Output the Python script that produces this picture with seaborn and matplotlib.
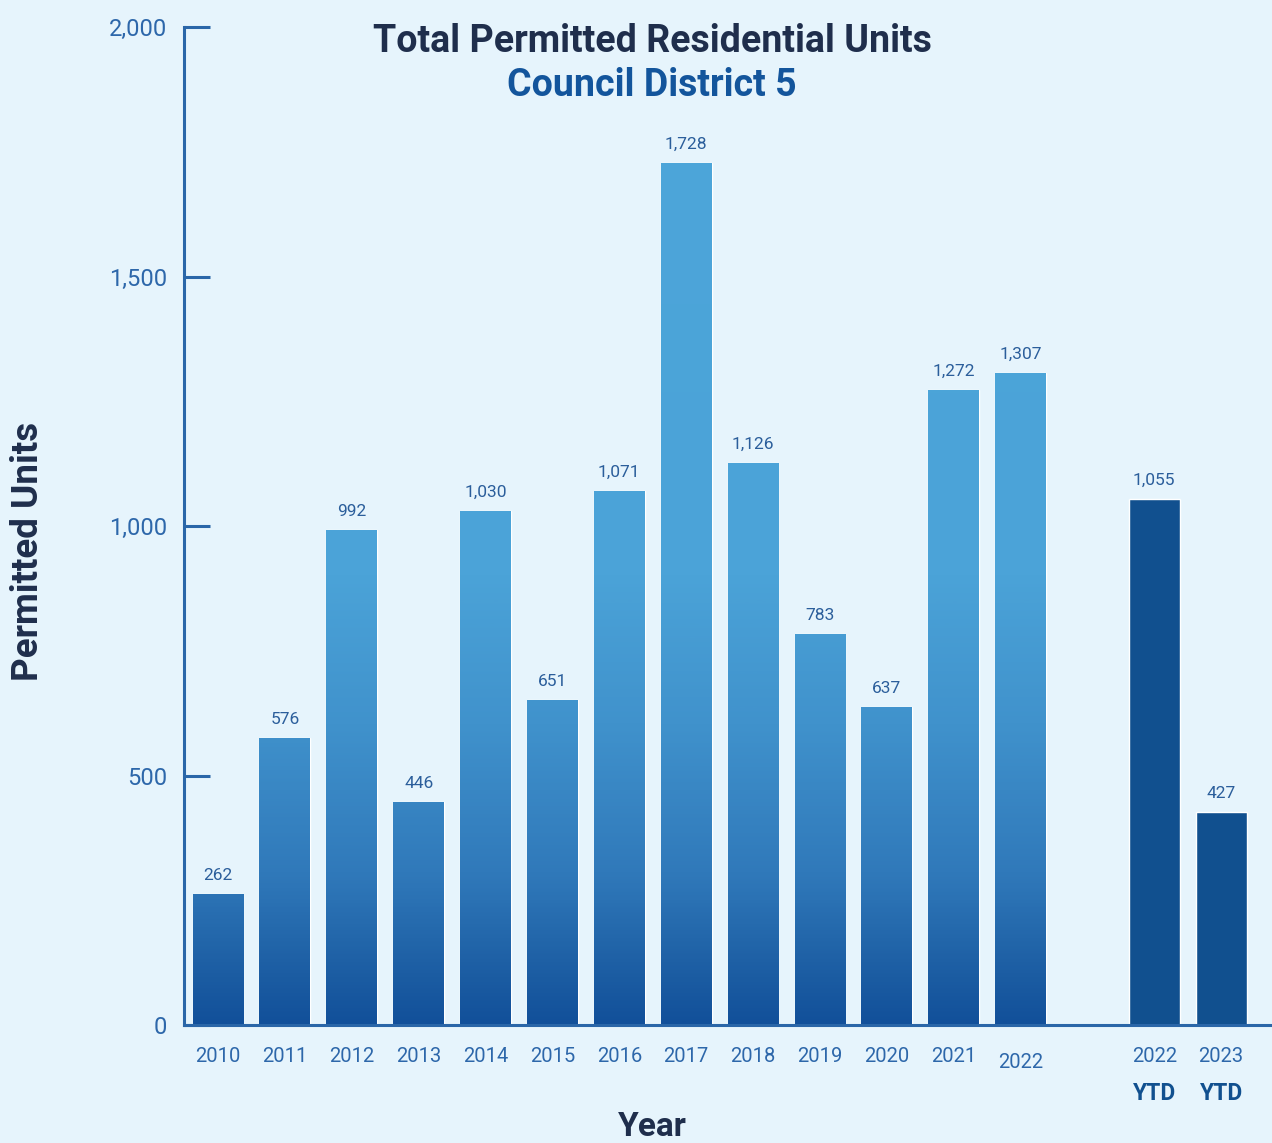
import numpy as np
import pandas as pd
import matplotlib
matplotlib.use("Agg")
import matplotlib.pyplot as plt
from matplotlib.colors import LinearSegmentedColormap, Normalize, same_color
from matplotlib.ticker import FuncFormatter
from matplotlib.transforms import ScaledTranslation, blended_transform_factory
import seaborn as sns

# ---- data ----
positions = [0, 1, 2, 3, 4, 5, 6, 7, 8, 9, 10, 11, 12, 14, 15]
year_labels = ["2010", "2011", "2012", "2013", "2014", "2015", "2016", "2017",
               "2018", "2019", "2020", "2021", "2022", "2022", "2023"]
units = [262, 576, 992, 446, 1030, 651, 1071, 1728, 1126, 783, 637, 1272, 1307,
         1055, 427]
period = ["Annual"] * 13 + ["YTD"] * 2
y_ticks = [0, 500, 1000, 1500, 2000]

# ---- style ----
BG = "#E6F4FC"
SPINE = "#2A66A8"
TICK_TXT = "#2D67AA"
NAVY = "#1F2E4C"
DEEP = "#13559C"
ANNUAL = "#4DA6DA"
YTD = "#11508F"

sns.set_theme(style="white")
plt.rcParams["font.family"] = ["Roboto", "DejaVu Sans"]

fig = plt.figure(figsize=(12.72, 11.43), dpi=100)
fig.patch.set_facecolor(BG)
ax = fig.add_axes([0.1447, 0.1032, 0.8553, 0.8731])
ax.set_facecolor(BG)

df = pd.DataFrame({"pos": positions, "units": units, "period": period})
sns.barplot(data=df, x="pos", y="units", hue="period", native_scale=True,
            dodge=False, palette={"Annual": ANNUAL, "YTD": YTD}, width=0.76,
            saturation=1, legend=False, ax=ax)

XLIM = (-0.508, 15.76)
YLIM = (0, 2000)

# vertical gradient fill for the annual bars (dark at the base, light higher up)
grad_cmap = LinearSegmentedColormap.from_list(
    "units_grad",
    [(0.0, "#12509A"), (0.06, "#1E60A5"), (0.15, "#3079BA"),
     (0.30, "#4092CC"), (0.45, "#4BA3D8"), (1.0, "#4DA6DA")])
grad = np.linspace(0, 2000, 600).reshape(-1, 1)
for p in list(ax.patches):
    if same_color(p.get_facecolor(), ANNUAL):
        p.set_facecolor("none")
        im = ax.imshow(grad, cmap=grad_cmap, norm=Normalize(0, 2000),
                       extent=(XLIM[0], XLIM[1], 0, 2000), origin="lower",
                       aspect="auto", zorder=p.get_zorder(), interpolation="bilinear")
        im.set_clip_path(p)

ax.set_xlim(*XLIM)
ax.set_ylim(*YLIM)

# value labels
for cont in ax.containers:
    ax.bar_label(cont, fmt="{:,.0f}", padding=8, fontsize=12.5, color="#2B5E9B")

# axes
for s in ("top", "right"):
    ax.spines[s].set_visible(False)
for s in ("left", "bottom"):
    ax.spines[s].set_color(SPINE)
    ax.spines[s].set_linewidth(2.2)

ax.set_yticks(y_ticks)
ax.yaxis.set_major_formatter(FuncFormatter(lambda v, _: f"{v:,.0f}"))
ax.tick_params(axis="y", direction="in", length=19, width=2.2, color=SPINE,
               labelcolor=TICK_TXT, labelsize=17, pad=12, left=True)
ax.set_xticks(positions)
ax.set_xticklabels(year_labels)
ax.tick_params(axis="x", length=0, labelcolor=TICK_TXT, labelsize=14.5, pad=16)

# the annual 2022 label sits a little lower
xt = ax.get_xticklabels()
xt[12].set_transform(xt[12].get_transform()
                     + ScaledTranslation(0, -4 / 72, fig.dpi_scale_trans))

# "YTD" under the two partial-year bars
trans = blended_transform_factory(ax.transData, fig.transFigure)
for x in positions[13:]:
    ax.text(x, 1 - 1093 / 1143, "YTD", transform=trans, ha="center", va="center",
            fontsize=16.5, fontweight="bold", color=YTD)

ax.set_ylabel("Permitted Units", fontsize=26.5, fontweight="bold", color=NAVY)
ax.yaxis.set_label_coords(-0.127, 0.475)
ax.set_xlabel("Year", fontsize=24, fontweight="bold", color=NAVY)
ax.xaxis.set_label_coords(0.430, -0.086)

fig.text(0.5126, 1 - 42 / 1143, "Total Permitted Residential Units", ha="center",
         va="center", fontsize=27, fontweight="bold", color=NAVY)
fig.text(0.5126, 1 - 85 / 1143, "Council District 5", ha="center",
         va="center", fontsize=27, fontweight="bold", color=DEEP)

fig.savefig("out.png", dpi=100, facecolor=BG)
